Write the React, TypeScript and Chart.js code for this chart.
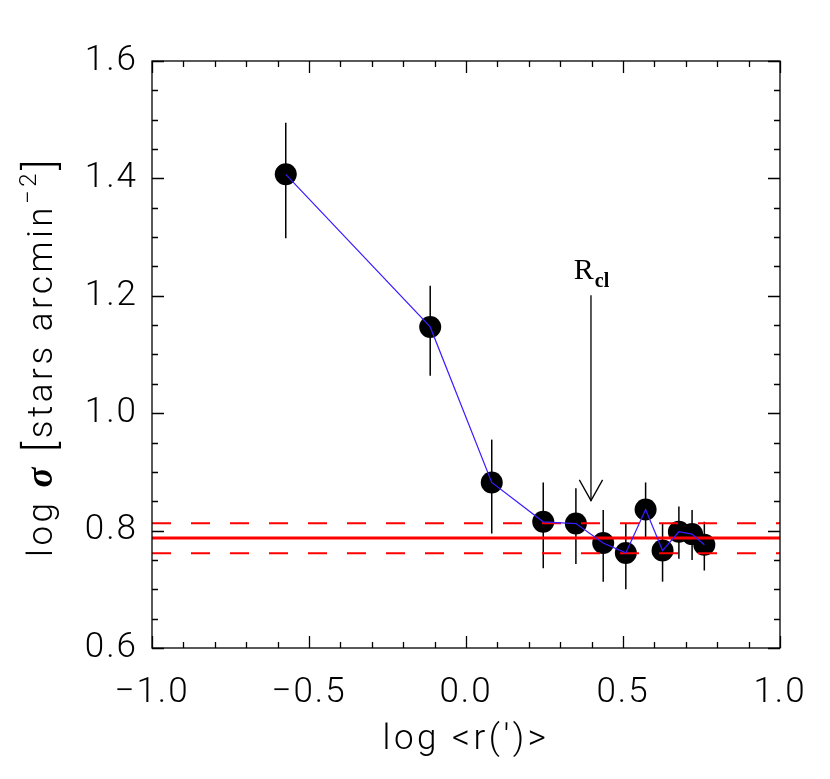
import React, { useEffect, useRef } from "react";
import { Chart, registerables } from "chart.js";

Chart.register(...registerables);

// ---- data ----
const logR = [-0.574, -0.114, 0.082, 0.246, 0.350, 0.437, 0.509, 0.572, 0.626, 0.678, 0.720, 0.759];
const logSigma = [1.407, 1.147, 0.882, 0.815, 0.812, 0.779, 0.762, 0.836, 0.766, 0.798, 0.794, 0.776];
const errHigh = [1.495, 1.217, 0.955, 0.882, 0.872, 0.835, 0.812, 0.882, 0.812, 0.841, 0.835, 0.815];
const errLow = [1.298, 1.064, 0.795, 0.736, 0.743, 0.713, 0.700, 0.789, 0.713, 0.752, 0.750, 0.732];

const bgLevel = 0.7875;
const bgUpper = 0.8125;
const bgLower = 0.7613;

const rcl = 0.398;
const arrowTop = 1.201;
const arrowTip = 0.851;
const arrowWingY = 0.8865;
const arrowWingDx = 0.037;

const xTickValues = [-1.0, -0.5, 0.0, 0.5, 1.0];
const xTickLabels = ["\u22121.0", "\u22120.5", "0.0", "0.5", "1.0"];
const yTickValues = [0.6, 0.8, 1.0, 1.2, 1.4, 1.6];
const yTickLabels = ["0.6", "0.8", "1.0", "1.2", "1.4", "1.6"];

const SANS = "Roboto, 'Open Sans', 'DejaVu Sans', sans-serif";
const SERIF = "'Liberation Serif', 'DejaVu Serif', serif";
const FSIZE = 35;
const FWEIGHT = "300";
const SPACING = "2px";
const TITLE_SPACING = "3.5px";

const spacingPlugin = {
  id: "spacing",
  beforeDraw(chart: any) {
    chart.ctx.letterSpacing = SPACING;
  },
};

const overlayPlugin = {
  id: "overlay",
  beforeDatasetsDraw(chart: any) {
    const { ctx } = chart;
    const xs = chart.scales.x;
    const ys = chart.scales.y;
    ctx.save();
    ctx.strokeStyle = "#000";
    ctx.lineWidth = 1.5;
    for (let i = 0; i < logR.length; i++) {
      const px = xs.getPixelForValue(logR[i]);
      ctx.beginPath();
      ctx.moveTo(px, ys.getPixelForValue(errHigh[i]));
      ctx.lineTo(px, ys.getPixelForValue(errLow[i]));
      ctx.stroke();
    }
    ctx.restore();
  },
  afterDraw(chart: any) {
    const { ctx, chartArea: a } = chart;
    const xs = chart.scales.x;
    const ys = chart.scales.y;
    ctx.save();
    ctx.strokeStyle = "#000";
    ctx.lineWidth = 1.3;
    ctx.strokeRect(a.left, a.top, a.right - a.left, a.bottom - a.top);
    // inward ticks
    const major = 12, minor = 6;
    for (let k = 0; k <= 20; k++) {
      const v = -1 + k * 0.1;
      const px = Math.round(xs.getPixelForValue(v)) + 0.5;
      const len = k % 5 === 0 ? major : minor;
      ctx.beginPath();
      ctx.moveTo(px, a.bottom);
      ctx.lineTo(px, a.bottom - len);
      ctx.moveTo(px, a.top);
      ctx.lineTo(px, a.top + len);
      ctx.stroke();
    }
    for (let k = 0; k <= 20; k++) {
      const v = 0.6 + k * 0.05;
      const py = Math.round(ys.getPixelForValue(v)) + 0.5;
      const len = k % 4 === 0 ? major : minor;
      ctx.beginPath();
      ctx.moveTo(a.left, py);
      ctx.lineTo(a.left + len, py);
      ctx.moveTo(a.right, py);
      ctx.lineTo(a.right - len, py);
      ctx.stroke();
    }
    // R_cl label
    ctx.letterSpacing = "0px";
    const lx = xs.getPixelForValue(rcl);
    const ly = ys.getPixelForValue(arrowTop);
    ctx.fillStyle = "#000";
    ctx.textBaseline = "alphabetic";
    ctx.textAlign = "left";
    ctx.font = `30px ${SERIF}`;
    const rW = ctx.measureText("R").width;
    ctx.font = `bold 20px ${SERIF}`;
    const clW = ctx.measureText("cl").width;
    const startX = lx - (rW + clW) / 2;
    ctx.font = `30px ${SERIF}`;
    ctx.fillText("R", startX, ly - 16);
    ctx.font = `bold 20px ${SERIF}`;
    ctx.fillText("cl", startX + rW + 1, ly - 8);

    // x title
    ctx.letterSpacing = TITLE_SPACING;
    ctx.font = `${FWEIGHT} ${FSIZE}px ${SANS}`;
    ctx.textAlign = "center";
    ctx.fillText("log <r(\u2032)>", (a.left + a.right) / 2, 749);

    // y title (rotated, mixed styles)
    const pieces = [
      { t: "log ", f: `${FWEIGHT} ${FSIZE}px ${SANS}`, dy: 0 },
      { t: "\u03c3", f: `bold italic ${FSIZE + 2}px ${SERIF}`, dy: 0 },
      { t: " ", f: `${FWEIGHT} ${FSIZE}px ${SANS}`, dy: 0 },
      { t: "[", f: `${FWEIGHT} ${FSIZE + 8}px ${SANS}`, dy: 2 },
      { t: "stars arcmin", f: `${FWEIGHT} ${FSIZE}px ${SANS}`, dy: 0 },
      { t: "\u22122", f: `${FWEIGHT} 24px ${SANS}`, dy: -16 },
      { t: "]", f: `${FWEIGHT} ${FSIZE + 8}px ${SANS}`, dy: 2 },
    ];
    let total = 0;
    const widths: number[] = [];
    for (const p of pieces) {
      ctx.font = p.f;
      const w = ctx.measureText(p.t).width;
      widths.push(w);
      total += w;
    }
    ctx.translate(52, (a.top + a.bottom) / 2 + 2);
    ctx.rotate(-Math.PI / 2);
    ctx.textAlign = "left";
    let cx = -total / 2;
    pieces.forEach((p, i) => {
      ctx.font = p.f;
      ctx.fillText(p.t, cx, p.dy);
      cx += widths[i];
    });
    ctx.restore();
  },
};

export default function App() {
  const ref = useRef<HTMLCanvasElement>(null);
  useEffect(() => {
    if (!ref.current) return;
    const pts = logR.map((x, i) => ({ x, y: logSigma[i] }));
    const tickFont = { family: SANS, size: FSIZE, weight: FWEIGHT as any };
    const chart = new Chart(ref.current, {
      type: "scatter",
      data: {
        datasets: [
          {
            label: "profile line",
            data: pts,
            showLine: true,
            borderColor: "#3a1cff",
            borderWidth: 1.2,
            pointRadius: 0,
            order: 0,
          },
          {
            label: "background",
            data: [{ x: -1, y: bgLevel }, { x: 1, y: bgLevel }],
            showLine: true,
            borderColor: "#ff0000",
            borderWidth: 3,
            pointRadius: 0,
            order: 1,
          },
          {
            label: "bg upper",
            data: [{ x: -1, y: bgUpper }, { x: 1, y: bgUpper }],
            showLine: true,
            borderColor: "#ff0000",
            borderWidth: 2,
            borderDash: [19, 20],
            pointRadius: 0,
            order: 1,
          },
          {
            label: "bg lower",
            data: [{ x: -1, y: bgLower }, { x: 1, y: bgLower }],
            showLine: true,
            borderColor: "#ff0000",
            borderWidth: 2,
            borderDash: [19, 20],
            pointRadius: 0,
            order: 1,
          },
          {
            label: "density",
            data: pts,
            showLine: false,
            pointRadius: 11,
            pointBackgroundColor: "#000",
            pointBorderColor: "#000",
            pointBorderWidth: 0,
            order: 2,
          },
          {
            label: "arrow shaft",
            data: [{ x: rcl, y: arrowTop }, { x: rcl, y: arrowTip }],
            showLine: true,
            borderColor: "#000",
            borderWidth: 1.3,
            pointRadius: 0,
            order: 3,
          },
          {
            label: "arrow head",
            data: [
              { x: rcl - arrowWingDx, y: arrowWingY },
              { x: rcl, y: arrowTip },
              { x: rcl + arrowWingDx, y: arrowWingY },
            ],
            showLine: true,
            borderColor: "#000",
            borderWidth: 1.3,
            pointRadius: 0,
            order: 3,
          },
        ],
      },
      options: {
        responsive: false,
        animation: false,
        devicePixelRatio: 1,
        layout: { padding: { top: 61, right: 50, left: 0, bottom: 0 } },
        plugins: { legend: { display: false }, tooltip: { enabled: false } },
        scales: {
          x: {
            type: "linear",
            min: -1,
            max: 1,
            grid: { display: false, drawTicks: false },
            border: { display: false },
            afterBuildTicks: (s: any) => {
              s.ticks = xTickValues.map((v) => ({ value: v }));
            },
            afterFit: (s: any) => {
              s.height = 131;
            },
            ticks: {
              padding: 24,
              maxRotation: 0,
              minRotation: 0,
              autoSkip: false,
              color: "#000",
              font: tickFont,
              callback: (_v: any, i: number) => xTickLabels[i],
            },
          },
          y: {
            type: "linear",
            min: 0.6,
            max: 1.6,
            grid: { display: false, drawTicks: false },
            border: { display: false },
            afterBuildTicks: (s: any) => {
              s.ticks = yTickValues.map((v) => ({ value: v }));
            },
            afterFit: (s: any) => {
              s.width = 152;
            },
            ticks: {
              padding: 14,
              autoSkip: false,
              color: "#000",
              font: tickFont,
              callback: (_v: any, i: number) => yTickLabels[i],
            },
          },
        },
      },
      plugins: [spacingPlugin, overlayPlugin],
    });
    return () => chart.destroy();
  }, []);
  return (
    <div style={{ position: "fixed", left: 0, top: 0, width: 830, height: 779, background: "#fff" }}>
      <canvas ref={ref} width={830} height={779} style={{ display: "block" }} />
    </div>
  );
}
